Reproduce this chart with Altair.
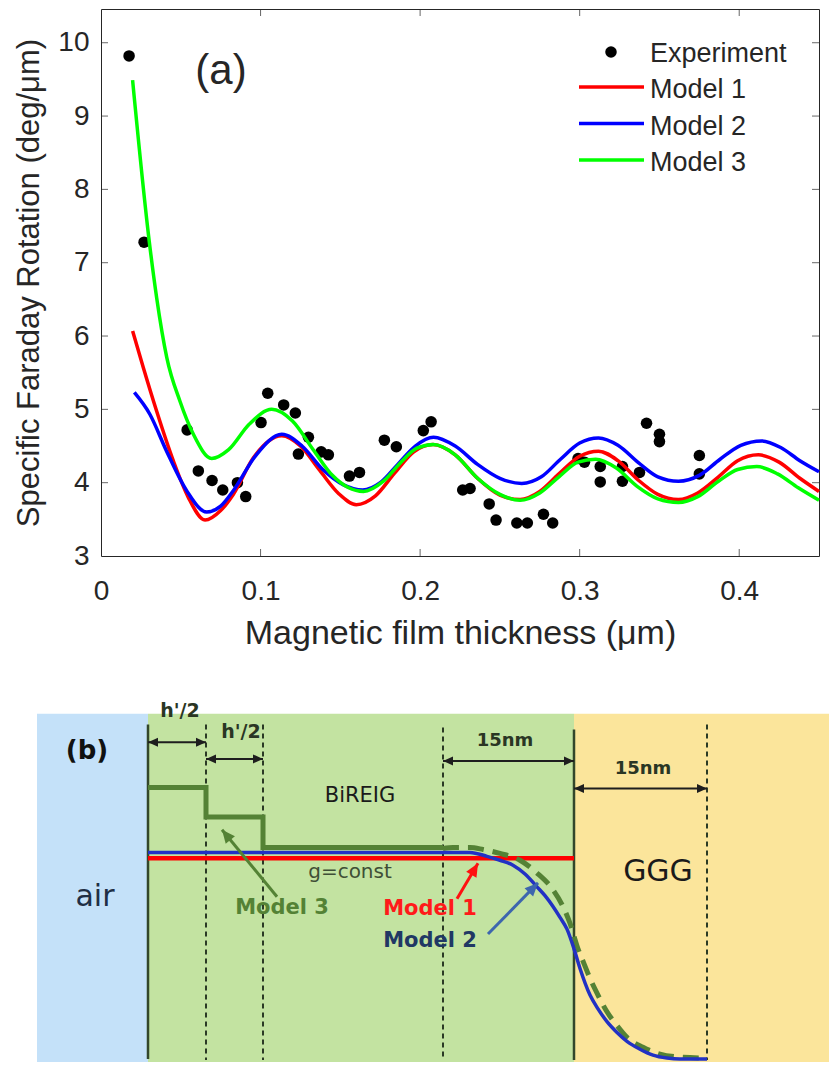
import altair as alt
import pandas as pd
import numpy as np

# ======================= Panel (a) data =======================
exp_x = [0.0176, 0.0270, 0.0540, 0.0610, 0.0696, 0.0763, 0.0855, 0.0907,
         0.1003, 0.1045, 0.1145, 0.1218, 0.1300, 0.1237, 0.1380, 0.1425,
         0.1557, 0.1620, 0.1776, 0.1851, 0.2020, 0.2069, 0.2267, 0.2313,
         0.2433, 0.2476, 0.2606, 0.2672, 0.2773, 0.2831, 0.2990, 0.3030,
         0.3129, 0.3129, 0.3268, 0.3268, 0.3375, 0.3419, 0.3500, 0.3500,
         0.3750, 0.3750]
exp_y = [9.82, 7.28, 4.72, 4.16, 4.03, 3.90, 4.00, 3.81,
         4.82, 5.22, 5.06, 4.95, 4.62, 4.39, 4.42, 4.38,
         4.09, 4.14, 4.58, 4.49, 4.71, 4.83, 3.90, 3.92,
         3.71, 3.49, 3.45, 3.45, 3.57, 3.45, 4.33, 4.28,
         4.22, 4.01, 4.22, 4.02, 4.14, 4.81, 4.66, 4.56,
         4.37, 4.12]

m1_x = [0.0198, 0.0265, 0.0348, 0.0453, 0.0547, 0.0652, 0.0750, 0.0829, 0.0955, 0.1133,
        0.1250, 0.1370, 0.1490, 0.1600, 0.1720, 0.1840, 0.1960, 0.2080, 0.2220, 0.2360,
        0.2500, 0.2627, 0.2750, 0.2870, 0.3000, 0.3118, 0.3240, 0.3370, 0.3490, 0.3619,
        0.3740, 0.3870, 0.3990, 0.4120, 0.4250, 0.4380, 0.4500]
m1_y = [6.07, 5.57, 4.98, 4.30, 3.80, 3.49, 3.62, 3.84, 4.34, 4.64,
        4.50, 4.17, 3.85, 3.70, 3.82, 4.13, 4.42, 4.52, 4.38, 4.06,
        3.83, 3.77, 3.88, 4.12, 4.36, 4.43, 4.30, 4.03, 3.84, 3.77,
        3.86, 4.08, 4.30, 4.38, 4.28, 4.06, 3.88]

m2_x = [0.0209, 0.0307, 0.0411, 0.0537, 0.0662, 0.0750, 0.0829, 0.0970, 0.1133, 0.1260,
        0.1390, 0.1520, 0.1640, 0.1750, 0.1860, 0.1970, 0.2084, 0.2220, 0.2360, 0.2500,
        0.2637, 0.2760, 0.2880, 0.3000, 0.3118, 0.3240, 0.3370, 0.3490, 0.3619, 0.3750,
        0.3880, 0.4010, 0.4140, 0.4260, 0.4380, 0.4500]
m2_y = [5.23, 4.93, 4.43, 3.89, 3.60, 3.68, 3.89, 4.37, 4.66, 4.50,
        4.18, 3.97, 3.90, 4.00, 4.25, 4.50, 4.62, 4.50, 4.25, 4.06,
        3.99, 4.08, 4.32, 4.54, 4.61, 4.51, 4.27, 4.08, 4.02, 4.10,
        4.32, 4.51, 4.57, 4.48, 4.30, 4.15]

m3_x = [0.0198, 0.0303, 0.0349, 0.0412, 0.0495, 0.0579, 0.0694, 0.0800, 0.0930, 0.1070,
        0.1200, 0.1330, 0.1450, 0.1645, 0.1770, 0.1880, 0.1980, 0.2084, 0.2220, 0.2360,
        0.2500, 0.2627, 0.2750, 0.2870, 0.2990, 0.3100, 0.3230, 0.3360, 0.3490, 0.3619,
        0.3740, 0.3870, 0.3990, 0.4110, 0.4240, 0.4370, 0.4500]
m3_y = [9.49, 7.28, 6.52, 5.71, 5.11, 4.66, 4.33, 4.45, 4.80, 5.00,
        4.84, 4.45, 4.10, 3.88, 4.02, 4.28, 4.47, 4.52, 4.38, 4.06,
        3.84, 3.76, 3.86, 4.08, 4.28, 4.32, 4.20, 3.95, 3.78, 3.73,
        3.81, 4.02, 4.18, 4.22, 4.12, 3.93, 3.76]

model_names = ["Model 1", "Model 2", "Model 3"]
exp_name = "Experiment"
x_ticks = [0, 0.1, 0.2, 0.3, 0.4]
y_ticks = [3, 4, 5, 6, 7, 8, 9, 10]
x_title = "Magnetic film thickness (μm)"
y_title = "Specific Faraday Rotation (deg/μm)"

# ======================= Panel (b) schematic data (layout units) =======================
region_names = ["air", "BiREIG", "GGG"]
region_x0 = [37, 148, 574]
region_x1 = [148, 574, 829]
region_y0 = [714, 714, 714]
region_y1 = [1068, 1068, 1068]

dash_x = [206, 263, 443, 707]
dash_top = [725, 725, 728, 725]
dash_bot = [1066, 1066, 1066, 1066]

wall_x = [148, 574]
wall_top = [725, 730]
wall_bot = [1065, 1066]

dim_x0 = [148, 206, 443, 574]
dim_x1 = [206, 263, 574, 707]
dim_y = [743, 760, 762, 790]
dim_text = ["h'/2", "h'/2", "15nm", "15nm"]
dim_tx = [180, 241, 505, 643]
dim_ty = [711, 733, 742, 770]

m1_sx = [148, 574]
m1_sy = [861, 861]

m3_step_x = [148, 206, 206, 263, 263, 443]
m3_step_y = [789, 789, 819, 819, 850, 850]

m3_tail_x = [443, 453, 470, 483, 500, 520, 537, 553, 562, 570, 578, 584, 590, 598,
             607, 617, 627, 643, 660, 680, 707]
m3_tail_y = [851, 850, 850, 852, 856, 863, 876, 893, 908, 927, 953, 968, 983, 1000,
             1017, 1031, 1043, 1053, 1060, 1063, 1064]

m2_sx = [148, 443, 453, 470, 487, 500, 513, 525, 537, 545, 553, 560, 567, 574, 580,
         590, 598, 607, 617, 627, 640, 653, 667, 680, 707]
m2_sy = [855, 855, 855, 855, 859, 863, 868, 877, 890, 899, 910, 921, 933, 953, 973,
         1000, 1014, 1027, 1038, 1047, 1055, 1061, 1064, 1065, 1065]

ptr_name = ["Model 3", "Model 1", "Model 2"]
ptr_x0 = [277, 457, 488]
ptr_y0 = [900, 902, 938]
ptr_x1 = [222, 478, 538]
ptr_y1 = [832, 866, 886]

# ======================= styles =======================
FA = "Liberation Sans"
FB = "DejaVu Sans"
AX = "#262626"
YTOP = 10.46
ARROW = "M0,0 L-1,-0.45 L-1,0.45 Z"
MODEL_COLORS = ["#FF0000", "#0000FF", "#00FF00"]

# ---------------------- panel (a) ----------------------
xs = alt.Scale(domain=[0, 0.45], nice=False, zero=False)
ys = alt.Scale(domain=[3, YTOP], nice=False, zero=False)

x_enc = alt.X("x:Q", scale=xs, axis=alt.Axis(
    values=x_ticks, format="~g", title=x_title, labelFont=FA, labelFontSize=28,
    labelColor=AX, labelPadding=21, ticks=False, domain=False, grid=False,
    labelFlush=False, titleFont=FA, titleFontSize=34, titleFontWeight="normal",
    titleColor=AX, titlePadding=11))
y_enc = alt.Y("y:Q", scale=ys, axis=alt.Axis(
    values=y_ticks, title=y_title, labelFont=FA, labelFontSize=28, labelColor=AX,
    labelPadding=12, ticks=False, domain=False, grid=False, titleFont=FA,
    titleFontSize=31, titleFontWeight="normal", titleColor=AX, titlePadding=12))

exp_df = pd.DataFrame({"x": exp_x, "y": exp_y})
lines_df = pd.concat([
    pd.DataFrame({"x": m1_x, "y": m1_y, "model": model_names[0]}),
    pd.DataFrame({"x": m2_x, "y": m2_y, "model": model_names[1]}),
    pd.DataFrame({"x": m3_x, "y": m3_y, "model": model_names[2]}),
], ignore_index=True)
model_scale = alt.Scale(domain=model_names, range=MODEL_COLORS)

points = alt.Chart(exp_df).mark_point(filled=True, size=133, opacity=1, color="black").encode(
    x=x_enc, y=y_enc)

lines = alt.Chart(lines_df).mark_line(strokeWidth=3.5, interpolate="monotone").encode(
    x=x_enc, y=y_enc, color=alt.Color("model:N", scale=model_scale, legend=None))

def tick_layer(xv, yv, orient):
    df = pd.DataFrame({"x": xv, "y": yv})
    return alt.Chart(df).mark_tick(orient=orient, size=14, thickness=1, color=AX,
                                   clip=True).encode(x=x_enc, y=y_enc)

ticks_bottom = tick_layer(x_ticks[1:], [3] * 4, "vertical")
ticks_top = tick_layer(x_ticks[1:], [YTOP] * 4, "vertical")
ticks_left = tick_layer([0] * 7, y_ticks[1:], "horizontal")
ticks_right = tick_layer([0.45] * 7, y_ticks[1:], "horizontal")

one = pd.DataFrame({"t": [0]})
label_a = alt.Chart(one).mark_text(
    text="(a)", font=FA, fontSize=42, color=AX, align="center", baseline="middle").encode(
    x=alt.value(120), y=alt.value(62))

# legend (drawn inside the axes, top right)
legend_layers = [
    alt.Chart(one).mark_point(filled=True, size=133, opacity=1, color="black").encode(
        x=alt.value(510), y=alt.value(43)),
    alt.Chart(one).mark_text(text=exp_name, font=FA, fontSize=27, color=AX,
                             align="left", baseline="middle").encode(
        x=alt.value(549), y=alt.value(45)),
]
for i, (nm, col) in enumerate(zip(model_names, MODEL_COLORS)):
    ly = 78 + i * 36.5
    legend_layers.append(
        alt.Chart(one).mark_rule(strokeWidth=3.5, color=col).encode(
            x=alt.value(478), x2=alt.value(543), y=alt.value(ly)))
    legend_layers.append(
        alt.Chart(one).mark_text(text=nm, font=FA, fontSize=27, color=AX,
                                 align="left", baseline="middle").encode(
            x=alt.value(549), y=alt.value(ly + 3)))

panel_a = alt.layer(points, lines, ticks_bottom, ticks_top, ticks_left, ticks_right,
                    label_a, *legend_layers).properties(
    width=718, height=547, view=alt.ViewBackground(stroke=AX, strokeWidth=1))

# ---------------------- panel (b) ----------------------
# The view of panel (b) is aligned with the plot area of panel (a); the air
# region and its labels are drawn to the left of it (unclipped).
B_LEFT = 101
B_RIGHT = 829
B_TOP = 692
B_BOTTOM = 1068
B_HEIGHT = 370
bx = alt.Scale(domain=[B_LEFT, B_RIGHT], nice=False, zero=False)
by = alt.Scale(domain=[B_TOP, B_BOTTOM], reverse=True, nice=False, zero=False)

def BX(f):
    return alt.X(f, type="quantitative", scale=bx, axis=None)

def BY(f):
    return alt.Y(f, type="quantitative", scale=by, axis=None)

reg_df = pd.DataFrame({"region": region_names, "x0": region_x0, "x1": region_x1,
                       "y0": region_y0, "y1": region_y1})
regions = alt.Chart(reg_df).mark_rect(strokeWidth=0).encode(
    x=BX("x0"), x2=alt.X2("x1"), y=BY("y0"), y2=alt.Y2("y1"),
    color=alt.Color("region:N", scale=alt.Scale(domain=region_names,
                                                range=["#C4E1F9", "#C3E3A1", "#FBE59B"]),
                    legend=None))

dash_df = pd.DataFrame({"x": dash_x, "y0": dash_top, "y1": dash_bot})
dashes = alt.Chart(dash_df).mark_rule(strokeDash=[5, 4], strokeWidth=2, color="#2B3A25").encode(
    x=BX("x"), y=BY("y0"), y2=alt.Y2("y1"))

wall_df = pd.DataFrame({"x": wall_x, "y0": wall_top, "y1": wall_bot})
walls = alt.Chart(wall_df).mark_rule(strokeWidth=2.5, color="#33472B").encode(
    x=BX("x"), y=BY("y0"), y2=alt.Y2("y1"))

dim_df = pd.DataFrame({"x0": dim_x0, "x1": dim_x1, "y": dim_y, "t": dim_text,
                       "tx": dim_tx, "ty": dim_ty})
dim_rules = alt.Chart(dim_df).mark_rule(strokeWidth=2, color="#1E1E1E").encode(
    x=BX("x0"), x2=alt.X2("x1"), y=BY("y"))
heads_df = pd.DataFrame({"x": dim_x0 + dim_x1, "y": dim_y + dim_y,
                         "ang": [180] * 4 + [0] * 4})
dim_heads = alt.Chart(heads_df).mark_point(shape=ARROW, filled=True, size=400, opacity=1,
                                           color="#1E1E1E", strokeWidth=0).encode(
    x=BX("x"), y=BY("y"), angle=alt.Angle("ang:Q", scale=None))
dim_labels = alt.Chart(dim_df).mark_text(font=FB, fontWeight="bold",
                                         color="#2A3624", align="center",
                                         baseline="middle").encode(
    x=BX("tx"), y=BY("ty"), text="t:N",
    size=alt.Size("t:N", scale=alt.Scale(domain=["h'/2", "15nm"], range=[19, 18]),
                  legend=None))

def path_df(xv, yv):
    return pd.DataFrame({"x": xv, "y": yv, "i": list(range(len(xv)))})

red_line = alt.Chart(path_df(m1_sx, m1_sy)).mark_line(
    strokeWidth=4.5, color="#FF0000").encode(
    x=BX("x"), y=BY("y"), order="i:Q")
green_step = alt.Chart(path_df(m3_step_x, m3_step_y)).mark_line(
    strokeWidth=5, color="#548235", strokeJoin="miter").encode(
    x=BX("x"), y=BY("y"), order="i:Q")
green_tail = alt.Chart(path_df(m3_tail_x, m3_tail_y)).mark_line(
    strokeWidth=5, color="#548235", strokeDash=[16, 9], interpolate="monotone").encode(
    x=BX("x"), y=BY("y"), order="i:Q")
blue_line = alt.Chart(path_df(m2_sx, m2_sy)).mark_line(
    strokeWidth=3.5, color="#2231C4", interpolate="monotone").encode(
    x=BX("x"), y=BY("y"), order="i:Q")

ptr_df = pd.DataFrame({"name": ptr_name, "x0": ptr_x0, "y0": ptr_y0,
                       "x1": ptr_x1, "y1": ptr_y1})
ptr_df["ang"] = np.mod(np.degrees(np.arctan2(ptr_df["y1"] - ptr_df["y0"],
                                             ptr_df["x1"] - ptr_df["x0"])), 360)
ptr_colors = alt.Scale(domain=ptr_name, range=["#548235", "#FF1010", "#3D66AE"])
ptr_shafts = alt.Chart(ptr_df).mark_rule(strokeWidth=3).encode(
    x=BX("x0"), y=BY("y0"), x2=alt.X2("x1"), y2=alt.Y2("y1"),
    stroke=alt.Stroke("name:N", scale=ptr_colors, legend=None))
ptr_heads = alt.Chart(ptr_df).mark_point(shape=ARROW, filled=True, size=700, opacity=1,
                                         strokeWidth=0).encode(
    x=BX("x1"), y=BY("y1"), angle=alt.Angle("ang:Q", scale=None),
    fill=alt.Fill("name:N", scale=ptr_colors, legend=None))

def btext(t, x, y, size, color, weight="normal"):
    df = pd.DataFrame({"t": [t], "x": [x], "y": [y]})
    return alt.Chart(df).mark_text(font=FB, fontSize=size, color=color, fontWeight=weight,
                                   align="center", baseline="middle").encode(
        x=BX("x"), y=BY("y"), text="t:N")

texts = [
    btext("(b)", 87, 752, 26, "#111111", "bold"),
    btext("BiREIG", 360, 798, 21, "#1A1A1A"),
    btext("air", 95, 900, 30, "#1F2F45"),
    btext("g=const", 350, 875, 20, "#3F4F36"),
    btext("Model 3", 282, 912, 21, "#548235", "bold"),
    btext("Model 1", 430, 913, 21, "#FF1A1A", "bold"),
    btext("Model 2", 430, 945, 21, "#203864", "bold"),
    btext("GGG", 658, 875, 30, "#1A1A1A"),
]

panel_b = alt.layer(regions, dashes, walls, dim_rules, dim_heads, dim_labels, red_line,
                    green_step, green_tail, blue_line, ptr_shafts, ptr_heads, *texts).properties(
    width=B_RIGHT - B_LEFT, height=B_HEIGHT,
    view=alt.ViewBackground(strokeWidth=0, stroke="transparent"))

chart = alt.vconcat(panel_a, panel_b, spacing=41).resolve_scale(
    color="independent", stroke="independent", fill="independent", size="independent",
    x="independent", y="independent").properties(
    padding={"left": 5, "top": 0, "right": 0, "bottom": 0}
).configure_view(stroke="transparent")

chart.save("out.html", embed_options={"renderer": "svg", "actions": False})
